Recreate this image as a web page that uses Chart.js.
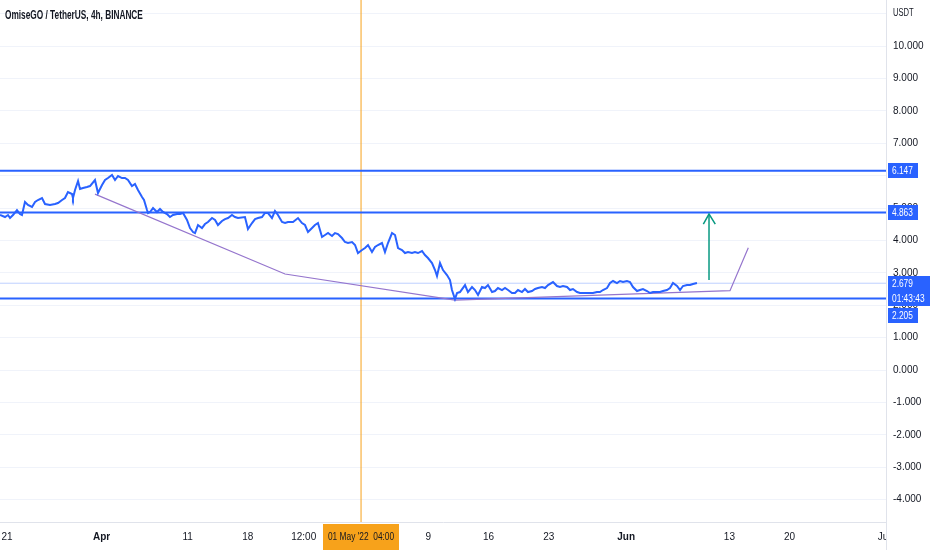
<!DOCTYPE html>
<html>
<head>
<meta charset="utf-8">
<script src="https://cdn.jsdelivr.net/npm/chart.js@4.4.0/dist/chart.umd.min.js"></script>
<style>
  html, body { margin: 0; padding: 0; background: #ffffff; }
  #wrap { position: relative; width: 932px; height: 550px; }
</style>
</head>
<body>
<div id="wrap"><canvas id="priceChart"></canvas></div>
<script>
// =======================================================================
// 1. DATA (x = days since 21 Mar 2022)
// =======================================================================
const priceDays = [
  -0.81, -0.23, 0.12, 0.35, 0.70, 1.16, 1.51, 1.74, 2.09, 2.44, 2.91, 3.26, 3.60, 4.07, 4.42,
  5.00, 5.58, 5.93, 6.40, 6.74, 7.09, 7.56, 7.67, 7.91, 8.26, 8.49, 8.84, 9.30, 9.65, 10.23,
  10.58, 11.05, 11.40, 11.74, 12.21, 12.56, 12.91, 13.37, 13.72, 14.07, 14.53, 14.88, 15.23, 15.70, 15.93,
  16.28, 16.40, 16.63, 16.98, 17.44, 17.79, 18.14, 18.60, 18.95, 19.30, 19.77, 20.12, 20.47, 20.93, 21.28,
  21.63, 21.86, 22.21, 22.67, 23.02, 23.37, 23.84, 24.19, 24.53, 25.00, 25.35, 25.70, 26.16, 26.51, 26.86,
  27.67, 28.02, 28.49, 28.84, 29.19, 29.65, 30.00, 30.35, 30.81, 31.16, 31.51, 31.98, 32.33, 32.67, 33.26,
  33.84, 34.30, 34.65, 35.00, 35.47, 35.81, 36.16, 36.63, 36.98, 37.33, 37.79, 38.14, 38.49, 38.95, 39.30,
  39.65, 40.12, 40.47, 40.81, 41.28, 41.63, 41.98, 42.44, 42.79, 43.14, 43.60, 43.95, 44.30, 44.77, 45.12,
  45.47, 45.93, 46.28, 46.63, 47.09, 47.44, 47.79, 48.26, 48.60, 48.95, 49.42, 49.77, 50.00, 50.35, 50.70,
  51.16, 51.51, 51.74, 52.09, 52.33, 52.67, 53.26, 53.60, 54.07, 54.42, 54.77, 55.23, 55.58, 55.93, 56.40,
  56.74, 57.09, 57.56, 57.91, 58.26, 58.72, 59.07, 59.42, 59.88, 60.23, 60.58, 61.05, 61.40, 61.74, 62.21,
  62.56, 62.91, 63.49, 63.95, 64.30, 64.65, 65.12, 65.47, 65.81, 66.28, 66.63, 66.98, 67.44, 67.79, 68.14,
  68.60, 68.95, 69.30, 69.77, 70.12, 70.47, 70.93, 71.28, 71.63, 72.09, 72.44, 72.79, 73.26, 73.60, 73.95,
  74.42, 74.77, 75.12, 75.58, 75.93, 76.28, 76.74, 77.09, 77.44, 77.91, 78.26, 78.60, 79.07, 79.42, 79.77,
  80.23
];
const priceValues = [
  4.784, 4.722, 4.784, 4.691, 4.784, 4.938, 4.815, 4.784, 5.185, 5.093, 5.031, 5.185, 5.247, 5.309, 5.123,
  5.093, 5.123, 5.154, 5.247, 5.309, 5.494, 5.432, 5.309, 5.556, 5.833, 5.586, 5.617, 5.648, 5.679, 5.864,
  5.463, 5.710, 5.864, 5.926, 6.019, 5.864, 5.988, 5.926, 5.926, 5.864, 5.679, 5.741, 5.556, 5.340, 5.247,
  4.938, 4.846, 4.877, 5.000, 4.877, 4.969, 4.877, 4.815, 4.722, 4.784, 4.815, 4.815, 4.846, 4.630, 4.383,
  4.259, 4.228, 4.475, 4.383, 4.506, 4.568, 4.691, 4.630, 4.475, 4.599, 4.660, 4.691, 4.784, 4.722, 4.691,
  4.722, 4.352, 4.537, 4.660, 4.691, 4.722, 4.846, 4.846, 4.691, 4.907, 4.784, 4.568, 4.537, 4.568, 4.568,
  4.691, 4.537, 4.475, 4.259, 4.383, 4.475, 4.537, 4.105, 4.167, 4.228, 4.136, 4.228, 4.198, 4.074, 3.951,
  3.920, 3.951, 3.858, 3.611, 3.704, 3.765, 3.858, 3.642, 3.796, 3.858, 3.920, 3.642, 3.920, 4.228, 4.167,
  3.765, 3.704, 3.611, 3.642, 3.611, 3.642, 3.611, 3.673, 3.549, 3.457, 3.302, 3.086, 2.901, 3.302, 3.086,
  2.932, 2.778, 2.469, 2.191, 2.377, 2.407, 2.623, 2.407, 2.562, 2.469, 2.315, 2.562, 2.531, 2.623, 2.407,
  2.438, 2.531, 2.469, 2.531, 2.469, 2.377, 2.377, 2.469, 2.407, 2.500, 2.407, 2.438, 2.500, 2.531, 2.562,
  2.531, 2.623, 2.716, 2.593, 2.562, 2.593, 2.562, 2.469, 2.500, 2.407, 2.377, 2.377, 2.377, 2.377, 2.377,
  2.407, 2.407, 2.469, 2.531, 2.685, 2.747, 2.685, 2.747, 2.716, 2.747, 2.716, 2.562, 2.438, 2.469, 2.500,
  2.438, 2.377, 2.407, 2.407, 2.407, 2.438, 2.469, 2.531, 2.685, 2.593, 2.469, 2.593, 2.623, 2.623, 2.654,
  2.685
];

// horizontal levels drawn on the chart
const levelValues = [6.147, 4.863, 2.205];
const lastPrice = 2.679;
const countdownText = '01:43:43';

// purple hand-drawn trend path
const trendDays = [10.23, 32.33, 52.09, 84.07, 86.20];
const trendValues = [5.43, 2.963, 2.16, 2.45, 3.775];

// green target arrow
const arrowDay = 81.63;
const arrowFrom = 2.778;
const arrowTo = 4.815;
const arrowWingDays = [80.97, 82.36];
const arrowWingValue = 4.506;

// crosshair at 01 May '22 04:00
const crosshairDay = 41.17;
const crosshairText = "01 May '22  04:00";

// axes
const xTickDays = [0, 11, 21, 28, 34.5, 49, 56, 63, 72, 84, 91, 102];
const xTickLabels = ['21', 'Apr', '11', '18', '12:00', '9', '16', '23', 'Jun', '13', '20', 'Jul'];
const xBoldLabels = ['Apr', 'Jun'];
const yTickValues = [-4, -3, -2, -1, 0, 1, 2, 3, 4, 5, 6, 7, 8, 9, 10, 11];

const X_MIN = -0.814, X_MAX = 102.21;
const Y_MIN = -4.69, Y_MAX = 11.42;

const FONT = "'Liberation Sans', Arial, sans-serif";
const NARROW = 0.76;   // the screenshot's text is horizontally condensed
const BLUE = '#2962ff';
const ORANGE = '#f7a21b';

// =======================================================================
// 2. HELPERS
// =======================================================================
const pts = (xs, ys) => xs.map((d, i) => ({ x: d, y: ys[i] }));
const hline = v => [{ x: X_MIN, y: v }, { x: X_MAX, y: v }];

function lineSet(data, color, width) {
    return {
        data: data,
        borderColor: color,
        borderWidth: width,
        pointRadius: 0,
        tension: 0,
        fill: false
    };
}

// draw text squeezed horizontally, anchored at its left edge
function narrowText(ctx, text, x, y, sx) {
    ctx.save();
    ctx.translate(x, y);
    ctx.scale(sx || NARROW, 1);
    ctx.textAlign = 'left';
    ctx.fillText(text, 0, 0);
    ctx.restore();
}
const narrowWidth = (ctx, text) => ctx.measureText(text).width * NARROW;

// =======================================================================
// 3. OVERLAYS (title, price badges, crosshair label)
// =======================================================================
const overlayPlugin = {
    id: 'overlays',
    afterDraw(chart) {
        const { ctx, chartArea, scales } = chart;
        const area = chartArea;
        ctx.save();
        ctx.textBaseline = 'middle';

        // clip x labels under the price scale
        ctx.fillStyle = '#ffffff';
        ctx.fillRect(area.right + 1, area.bottom + 1, chart.width - area.right, chart.height - area.bottom);
        ctx.strokeStyle = '#e0e3eb';
        ctx.lineWidth = 1;
        ctx.beginPath();
        ctx.moveTo(area.right + 0.5, 0);
        ctx.lineTo(area.right + 0.5, chart.height);
        ctx.stroke();

        // title
        ctx.fillStyle = '#131722';
        ctx.font = 'bold 12px ' + FONT;
        narrowText(ctx, 'OmiseGO / TetherUS, 4h, BINANCE', 5, 16, 0.69);

        // currency
        ctx.font = '10px ' + FONT;
        narrowText(ctx, 'USDT', area.right + 7, 13);

        // price badges
        const badges = [
            { v: levelValues[0], lines: [levelValues[0].toFixed(3)] },
            { v: levelValues[1], lines: [levelValues[1].toFixed(3)] },
            { v: lastPrice, lines: [lastPrice.toFixed(3), countdownText] },
            { v: levelValues[2], lines: [levelValues[2].toFixed(3)] }
        ].sort((a, b) => b.v - a.v);
        ctx.font = '11px ' + FONT;
        let prevBottom = -Infinity;
        badges.forEach(b => {
            const lh = 15;
            let top = Math.round(scales.y.getPixelForValue(b.v) - lh / 2);
            if (top < prevBottom + 2) top = prevBottom + 2;
            const h = lh * b.lines.length;
            const w = Math.round(Math.max(...b.lines.map(t => narrowWidth(ctx, t))) + 9);
            ctx.fillStyle = BLUE;
            ctx.fillRect(area.right + 2, top, w, h);
            ctx.fillStyle = '#ffffff';
            b.lines.forEach((t, i) => narrowText(ctx, t, area.right + 6, top + lh * i + lh / 2 + 0.5));
            prevBottom = top + h;
        });

        // crosshair time label
        const cx = scales.x.getPixelForValue(crosshairDay);
        ctx.font = '11px ' + FONT;
        const tw = narrowWidth(ctx, crosshairText);
        const bw = Math.round(tw + 10);
        ctx.fillStyle = ORANGE;
        ctx.fillRect(Math.round(cx - bw / 2), area.bottom + 2, bw, chart.height - area.bottom - 2);
        ctx.fillStyle = '#131722';
        narrowText(ctx, crosshairText, cx - tw / 2, area.bottom + 15);

        ctx.restore();
    }
};

// =======================================================================
// 4. CHART
// =======================================================================
const ctxPrice = document.getElementById('priceChart').getContext('2d');
window.priceChart = new Chart(ctxPrice, {
    type: 'line',
    data: {
        datasets: [
            lineSet(pts(priceDays, priceValues), BLUE, 2),
            lineSet(pts([arrowWingDays[0], arrowDay, arrowWingDays[1]],
                        [arrowWingValue, arrowTo, arrowWingValue]), '#089981', 1.5),
            lineSet([{ x: arrowDay, y: arrowFrom }, { x: arrowDay, y: arrowTo }], '#089981', 1.5),
            lineSet(pts(trendDays, trendValues), '#9575cd', 1.2),
            lineSet(hline(levelValues[0]), BLUE, 2),
            lineSet(hline(levelValues[1]), BLUE, 2),
            lineSet(hline(levelValues[2]), BLUE, 2),
            lineSet(hline(lastPrice), 'rgba(41, 98, 255, 0.3)', 1),
            lineSet([{ x: crosshairDay, y: Y_MIN }, { x: crosshairDay, y: Y_MAX }], ORANGE, 1)
        ]
    },
    options: {
        responsive: true,
        maintainAspectRatio: false,
        animation: false,
        parsing: false,
        layout: { padding: 0 },
        plugins: {
            legend: { display: false },
            tooltip: { enabled: false }
        },
        scales: {
            x: {
                type: 'linear',
                min: X_MIN,
                max: X_MAX,
                grid: { display: false, drawTicks: false },
                border: { display: true, color: '#e0e3eb' },
                afterBuildTicks: axis => { axis.ticks = xTickDays.map(v => ({ value: v })); },
                afterFit: axis => {
                    axis.height = 28;
                    axis.paddingLeft = 0;
                    axis.paddingRight = 0;
                },
                ticks: {
                    autoSkip: false,
                    maxRotation: 0,
                    padding: 9,
                    color: '#131722',
                    font: c => ({
                        family: FONT,
                        size: 10,
                        weight: xBoldLabels.includes(xTickLabels[c.index]) ? 'bold' : 'normal'
                    }),
                    callback: (v, i) => xTickLabels[i]
                }
            },
            y: {
                type: 'linear',
                position: 'right',
                min: Y_MIN,
                max: Y_MAX,
                grid: { color: '#f0f3fa', drawTicks: false },
                border: { display: false },
                afterBuildTicks: axis => { axis.ticks = yTickValues.map(v => ({ value: v })); },
                afterFit: axis => {
                    axis.width = 46;
                    axis.paddingTop = 0;
                    axis.paddingBottom = 0;
                },
                ticks: {
                    padding: 7,
                    color: '#131722',
                    font: { family: FONT, size: 10 },
                    callback: v => (v > 10 ? '' : v.toFixed(3))
                }
            }
        }
    },
    plugins: [overlayPlugin]
});
</script>
</body>
</html>
